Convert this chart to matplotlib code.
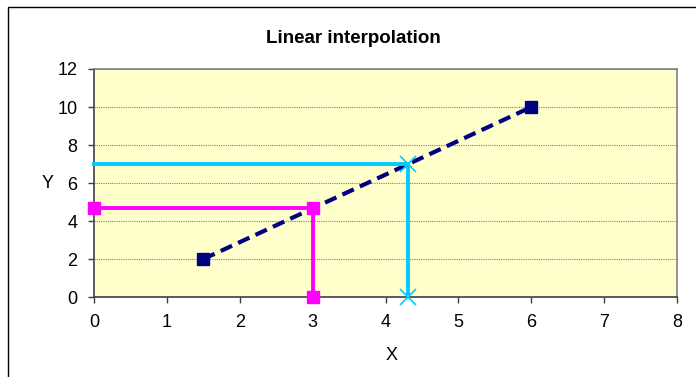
import matplotlib.pyplot as plt
from matplotlib.patches import Rectangle

plt.rcParams['font.family'] = ['Liberation Sans', 'DejaVu Sans']

# data
line_x = [1.5, 6]
line_y = [2, 10]
x_known = 3
y_known = 2 + (x_known - 1.5) * (10 - 2) / (6 - 1.5)
y_target = 7
x_target = 1.5 + (y_target - 2) * (6 - 1.5) / (10 - 2)
mag_x = [0, x_known, x_known]
mag_y = [y_known, y_known, 0]
cyan_x = [0, x_target, x_target]
cyan_y = [y_target, y_target, 0]

fig = plt.figure(figsize=(6.96, 3.77), dpi=100)
ax = fig.add_axes([0.135, 0.212, 0.838, 0.605])
ax.set_facecolor('#FFFFCC')

ax.plot(line_x, line_y, color='#000080', lw=3, ls=(0, (3, 1.6)),
        marker='s', ms=8, clip_on=False, zorder=3)
ax.plot(mag_x, mag_y, color='#FF00FF', lw=2.8,
        marker='s', ms=8.5, clip_on=False, zorder=4)
ax.plot(cyan_x, cyan_y, color='#00CCFF', lw=2.8, markevery=[1, 2],
        marker='x', ms=11, mew=1.2, clip_on=False, zorder=4)

ax.set_xlim(0, 8)
ax.set_ylim(0, 12)
ax.set_xticks(range(0, 9))
ax.set_yticks(range(0, 13, 2))
ax.yaxis.grid(True, color='#808080', ls=(0, (1, 1)), lw=0.8)
ax.set_axisbelow(True)

for side in ['top', 'right']:
    ax.spines[side].set_color('#808080')
    ax.spines[side].set_linewidth(1.2)
for side in ['left', 'bottom']:
    ax.spines[side].set_color('#404040')
    ax.spines[side].set_linewidth(1.2)

ax.tick_params(direction='out', length=4, width=1, color='#404040',
               labelsize=13)
ax.tick_params(axis='x', pad=8)
ax.tick_params(axis='y', pad=8)

fig.text(353 / 696, 1 - 43 / 377, 'Linear interpolation', fontsize=13.5,
         fontweight='bold', ha='center', va='baseline')
ax.set_xlabel('X', fontsize=13, va='center', ha='center')
ax.set_ylabel('Y', fontsize=13, rotation=0, va='center', ha='center')
ax.xaxis.set_label_coords(0.51, -0.254)
ax.yaxis.set_label_coords(-0.079, 0.5)

fig.patches.append(Rectangle((8 / 696, -0.1), 1.2, 1 - 7 / 377 + 0.1,
                             transform=fig.transFigure, fill=False,
                             edgecolor='black', lw=1))

fig.savefig('out.png', dpi=100)
